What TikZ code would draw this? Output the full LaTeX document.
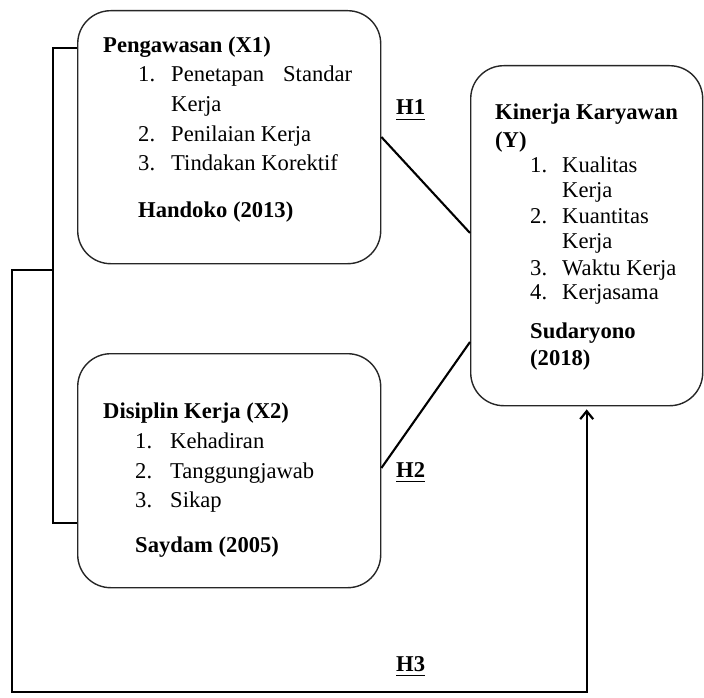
\documentclass[tikz,border=0pt]{standalone}
\usepackage{fontspec}
\setmainfont{Liberation Serif}
\usetikzlibrary{arrows.meta,calc}
\tikzset{
  x=1pt, y=-1pt,
  box/.style={draw=black!85, line width=1.4pt, rounded corners=33pt, anchor=north west, inner sep=0pt},
  txt/.style={anchor=base west, inner sep=0pt, font=\fontsize{22.6}{26}\selectfont},
  ttl/.style={txt, font=\fontsize{22.6}{26}\selectfont\bfseries},
  conn/.style={line width=2.4pt, black},
  hlab/.style={ttl},
}
\begin{document}
\begin{tikzpicture}
\useasboundingbox (0,0) rectangle (704,698);
% boxes
\node[box, minimum width=303pt, minimum height=253pt] (x1) at (77,10) {};
\node[box, minimum width=303pt, minimum height=234pt] (x2) at (77,353) {};
\node[box, minimum width=232pt, minimum height=340pt] (y) at (470,65) {};
% X1 text
\node[ttl] (x1t) at (103,53) {Pengawasan (X1)};
\node[txt] (x1n1) at (138,82) {1.};
\node[txt] (x1i1) at (171,82) {\hbox to 181pt{Penetapan\hfill Standar}};
\node[txt] (x1i1b) at (171,112) {Kerja};
\node[txt] (x1n2) at (138,142) {2.};
\node[txt] (x1i2) at (171,142) {Penilaian Kerja};
\node[txt] (x1n3) at (138,170) {3.};
\node[txt] (x1i3) at (171,170) {Tindakan Korektif};
\node[ttl] (x1s) at (138,217) {Handoko (2013)};
% X2 text
\node[ttl] (x2t) at (103,418) {Disiplin Kerja (X2)};
\node[txt] (x2n1) at (135,448) {1.};
\node[txt] (x2i1) at (170,448) {Kehadiran};
\node[txt] (x2n2) at (135,478) {2.};
\node[txt] (x2i2) at (170,478) {Tanggungjawab};
\node[txt] (x2n3) at (135,507) {3.};
\node[txt] (x2i3) at (170,507) {Sikap};
\node[ttl] (x2s) at (135,552) {Saydam (2005)};
% Y text
\node[ttl] (yt) at (495,120) {Kinerja Karyawan};
\node[ttl] (yt2) at (495,147) {(Y)};
\node[txt] (yn1) at (530,172) {1.};
\node[txt] (yi1) at (562,172) {Kualitas};
\node[txt] (yi1b) at (562,197) {Kerja};
\node[txt] (yn2) at (530,223) {2.};
\node[txt] (yi2) at (562,223) {Kuantitas};
\node[txt] (yi2b) at (562,248) {Kerja};
\node[txt] (yn3) at (530,275) {3.};
\node[txt] (yi3) at (562,275) {Waktu Kerja};
\node[txt] (yn4) at (530,299) {4.};
\node[txt] (yi4) at (562,299) {Kerjasama};
\node[ttl] (ys) at (530,338) {Sudaryono};
\node[ttl] (ys2) at (530,365) {(2018)};
% hypothesis labels
\node[hlab] (h1) at (396,115) {H1};
\node[hlab] (h2) at (396,477) {H2};
\node[hlab] (h3) at (396,671) {H3};
\foreach \h in {h1,h2,h3}
  \draw[line width=1.8pt] ([yshift=-4.5pt]\h.base west) -- ([yshift=-4.5pt]\h.base east);
% connectors
\draw[conn, line width=2.1pt] ([yshift=-127pt]x1.north east) -- ([yshift=-168pt]y.north west);
\draw[conn, line width=2.1pt] ([yshift=-115pt]x2.north east) -- ([yshift=-277pt]y.north west);
% bracket
\coordinate (bm) at (53,270);
\coordinate (bl) at (12,270);
\coordinate (bb) at (12,692);
\draw[conn] ([yshift=-38pt]x1.north west) -- ++(-24,0) |- ([yshift=-170pt]x2.north west);
\draw[conn, -{Straight Barb[length=8pt,width=13pt,line width=2.2pt]}, shorten >=3pt]
  (bm) -- (bl) -- (bb) -| (y.south);
\end{tikzpicture}
\end{document}
